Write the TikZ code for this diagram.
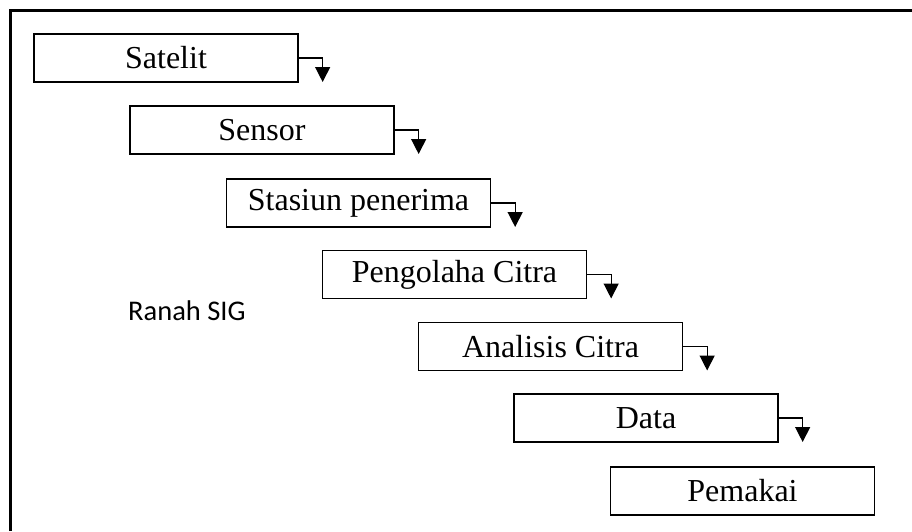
\documentclass[tikz,border=0pt]{standalone}
\usepackage{fontspec}
\setmainfont{Liberation Serif}
\newfontfamily\calibrifont{Carlito}
\usetikzlibrary{positioning,arrows.meta}

\tikzset{
  stagebox/.style={draw,line width=1.3pt,minimum width=264pt,minimum height=48pt,
    inner sep=0pt,font=\fontsize{32}{32}\selectfont},
  flow/.style={line width=1.3pt,-{Triangle[width=15pt,length=15pt]}}
}

\begin{document}
\begin{tikzpicture}[x=1pt,y=-1pt]
  \useasboundingbox (0,0) rectangle (912,531);
  % frame
  \draw [line width=3pt](10.5,531) -- (10.5,10.5) -- (912,10.5);
  % stages
  \node[stagebox] at(166,58)(sat){Satelit};
  \node[stagebox] at(262,130)(sens){Sensor};
  \node[stagebox] at(358.5,203)(stas){Stasiun penerima};
  \node[stagebox] at(454.5,274.5)(olah){Pengolaha Citra};
  \node[stagebox] at(550.5,346.5)(anal){Analisis Citra};
  \node[stagebox] at(646,418)(data){Data};
  \node[stagebox] at(742.5,491)(pakai){Pemakai};
  % label
  \node[anchor=base west,inner sep=0pt,font=\calibrifont\fontsize{28.5}{28.5}\selectfont]
    at(128,320)(ranah){Ranah SIG};
  % arrow ends
  \coordinate (satend) at ([shift={(24,24)}]sat.east);
  \coordinate (sensend) at ([shift={(24,24)}]sens.east);
  \coordinate (stasend) at ([shift={(24,24)}]stas.east);
  \coordinate (olahend) at ([shift={(24,24)}]olah.east);
  \coordinate (analend) at ([shift={(24,24)}]anal.east);
  \coordinate (dataend) at ([shift={(24,24)}]data.east);
  % arrows
  \draw [flow](sat.east) -| (satend);
  \draw [flow](sens.east) -| (sensend);
  \draw [flow](stas.east) -| (stasend);
  \draw [flow](olah.east) -| (olahend);
  \draw [flow](anal.east) -| (analend);
  \draw [flow](data.east) -| (dataend);
\end{tikzpicture}
\end{document}
